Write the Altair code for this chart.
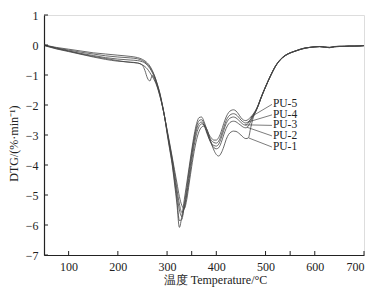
import altair as alt
import pandas as pd

temps = [50, 75, 100, 125, 150, 175, 200, 225, 240, 250, 255, 260, 265, 270, 275, 280, 285, 290, 295, 300,
         305, 310, 315, 320, 325, 330, 335, 340, 345, 350, 355, 360, 365, 370, 375, 380, 385, 390, 395, 400,
         405, 410, 415, 420, 425, 430, 435, 440, 445, 450, 455, 460, 465, 470, 475, 480, 485, 490,
         500, 510, 520, 530, 540, 550, 560, 570, 580, 590, 600, 610, 620, 630, 640, 650, 660, 670, 680, 690, 700]

pu5 = [0.00, -0.08, -0.14, -0.20, -0.26, -0.30, -0.34, -0.38, -0.42, -0.48, -0.53, -0.60, -0.70, -0.85, -1.05, -1.30, -1.60, -1.98, -2.40, -2.95,
       -3.45, -3.95, -4.60, -5.30, -6.08, -5.70, -5.15, -4.60, -4.05, -3.50, -3.00, -2.62, -2.42, -2.40, -2.55, -2.78, -2.98, -3.10, -3.17, -3.17,
       -3.08, -2.88, -2.62, -2.40, -2.25, -2.18, -2.16, -2.20, -2.30, -2.42, -2.50, -2.52, -2.48, -2.40, -2.30, -2.17, -2.00, -1.78,
       -1.38, -1.02, -0.70, -0.48, -0.34, -0.26, -0.20, -0.14, -0.10, -0.08, -0.06, -0.05, -0.07, -0.09, -0.05, -0.04, -0.05, -0.03, -0.04, -0.03, -0.02]

pu4 = [-0.01, -0.10, -0.17, -0.24, -0.30, -0.36, -0.40, -0.43, -0.46, -0.52, -0.57, -0.64, -0.74, -0.88, -1.06, -1.30, -1.58, -1.95, -2.38, -2.90,
       -3.40, -3.90, -4.50, -5.15, -5.85, -5.82, -5.30, -4.75, -4.15, -3.60, -3.10, -2.72, -2.52, -2.49, -2.62, -2.85, -3.05, -3.18, -3.25, -3.27,
       -3.20, -3.00, -2.75, -2.52, -2.38, -2.31, -2.29, -2.32, -2.40, -2.50, -2.57, -2.60, -2.56, -2.46, -2.34, -2.20, -2.02, -1.80,
       -1.40, -1.04, -0.72, -0.49, -0.35, -0.27, -0.20, -0.15, -0.11, -0.08, -0.06, -0.06, -0.08, -0.08, -0.06, -0.05, -0.04, -0.04, -0.03, -0.04, -0.02]

pu3 = [0.00, -0.12, -0.20, -0.28, -0.35, -0.42, -0.47, -0.50, -0.52, -0.56, -0.60, -0.68, -0.78, -0.92, -1.10, -1.34, -1.62, -1.98, -2.40, -2.88,
       -3.35, -3.82, -4.38, -4.98, -5.50, -5.72, -5.40, -4.90, -4.30, -3.72, -3.20, -2.82, -2.62, -2.57, -2.68, -2.90, -3.12, -3.27, -3.35, -3.37,
       -3.30, -3.10, -2.85, -2.62, -2.48, -2.42, -2.40, -2.43, -2.50, -2.58, -2.65, -2.67, -2.60, -2.48, -2.35, -2.20, -2.02, -1.80,
       -1.40, -1.03, -0.71, -0.49, -0.35, -0.26, -0.21, -0.15, -0.10, -0.08, -0.07, -0.05, -0.07, -0.09, -0.06, -0.04, -0.05, -0.04, -0.03, -0.03, -0.02]

pu2 = [-0.02, -0.13, -0.22, -0.31, -0.40, -0.48, -0.54, -0.57, -0.60, -0.68, -0.85, -1.10, -1.20, -1.02, -1.15, -1.38, -1.66, -2.00, -2.40, -2.85,
       -3.30, -3.75, -4.25, -4.80, -5.30, -5.58, -5.45, -5.00, -4.45, -3.88, -3.35, -2.95, -2.72, -2.63, -2.66, -2.85, -3.10, -3.30, -3.42, -3.46,
       -3.42, -3.25, -3.00, -2.78, -2.63, -2.56, -2.54, -2.56, -2.62, -2.68, -2.74, -2.76, -2.70, -2.55, -2.38, -2.22, -2.03, -1.80,
       -1.40, -1.04, -0.72, -0.50, -0.36, -0.27, -0.21, -0.15, -0.11, -0.08, -0.06, -0.05, -0.06, -0.08, -0.06, -0.05, -0.04, -0.04, -0.04, -0.03, -0.02]

pu1 = [0.00, -0.10, -0.20, -0.30, -0.38, -0.45, -0.52, -0.58, -0.60, -0.66, -0.72, -0.80, -0.92, -1.05, -1.20, -1.40, -1.68, -2.00, -2.40, -2.82,
       -3.25, -3.70, -4.15, -4.60, -5.05, -5.35, -5.45, -5.15, -4.60, -4.05, -3.55, -3.15, -2.88, -2.74, -2.70, -2.78, -3.00, -3.28, -3.50, -3.65,
       -3.70, -3.60, -3.40, -3.15, -2.98, -2.90, -2.87, -2.88, -2.93, -3.00, -3.08, -3.12, -3.10, -2.75, -2.42, -2.22, -2.03, -1.80,
       -1.40, -1.03, -0.71, -0.49, -0.35, -0.26, -0.20, -0.15, -0.10, -0.08, -0.06, -0.05, -0.07, -0.08, -0.05, -0.05, -0.04, -0.03, -0.04, -0.03, -0.02]

series_names = ["PU-1", "PU-2", "PU-3", "PU-4", "PU-5"]
series_values = [pu1, pu2, pu3, pu4, pu5]

label_names = ["PU-5", "PU-4", "PU-3", "PU-2", "PU-1"]
label_y = [-1.98, -2.33, -2.68, -3.03, -3.40]
label_x = [515, 515, 515, 515, 515]
leader_start_x = [513, 513, 513, 513, 513]
leader_end_x = [470, 464, 458, 462, 466]
leader_end_y = [-2.40, -2.57, -2.66, -2.74, -3.10]

x_ticks = [100, 200, 300, 350, 400, 500, 550, 600, 700]
x_labels = [100, 200, 300, 400, 500, 600, 700]
y_ticks = [1, 0, -1, -2, -3, -4, -5, -6, -7]

W, H = 320, 240
FONT = "Liberation Serif"
INK = "#222222"

rows = []
for name, vals in zip(series_names, series_values):
    for t, v in zip(temps, vals):
        rows.append({"T": t, "DTG": v, "series": name})
df = pd.DataFrame(rows)

xscale = alt.Scale(domain=[50, 700], nice=False, zero=False)
yscale = alt.Scale(domain=[-7, 1], nice=False, zero=False)

xaxis = alt.Axis(values=x_labels, title="温度 Temperature/°C", grid=False, ticks=False,
                 domainColor=INK, domainWidth=1.2, labelFont=FONT, labelFontSize=12,
                 labelColor=INK, labelPadding=6, labelOverlap=False, titleFont=FONT, titleFontSize=12,
                 titleFontWeight="normal", titleColor=INK, titlePadding=2, titleX=171)
yaxis = alt.Axis(values=y_ticks, title="DTG/(%·min⁻¹)", grid=False, ticks=False,
                 domainColor=INK, domainWidth=1.2, labelFont=FONT, labelFontSize=12,
                 labelColor=INK, labelPadding=6, labelOverlap=False, titleFont=FONT, titleFontSize=12,
                 titleFontWeight="normal", titleColor=INK, titlePadding=5, titleY=128)

lines = alt.Chart(df).mark_line(strokeWidth=0.8, color="#444444", interpolate="monotone", clip=True).encode(
    x=alt.X("T:Q", scale=xscale, axis=xaxis),
    y=alt.Y("DTG:Q", scale=yscale, axis=yaxis),
    detail="series:N",
)

xt = alt.Chart(pd.DataFrame({"t": x_ticks})).mark_rule(color=INK, strokeWidth=1).encode(
    x=alt.X("t:Q", scale=xscale, axis=xaxis), y=alt.value(H), y2=alt.value(H - 4))
yt = alt.Chart(pd.DataFrame({"t": y_ticks})).mark_rule(color=INK, strokeWidth=1).encode(
    y=alt.Y("t:Q", scale=yscale, axis=yaxis), x=alt.value(0), x2=alt.value(4))

lab_df = pd.DataFrame({"name": label_names, "x": label_x, "y": label_y,
                       "x0": leader_start_x, "x1": leader_end_x, "y1": leader_end_y})
leaders = alt.Chart(lab_df).mark_rule(color="#444444", strokeWidth=0.7).encode(
    x=alt.X("x0:Q", scale=xscale, axis=xaxis), y=alt.Y("y:Q", scale=yscale, axis=yaxis),
    x2="x1:Q", y2="y1:Q")
texts = alt.Chart(lab_df).mark_text(align="left", baseline="middle", font=FONT, fontSize=11.5, color=INK).encode(
    x=alt.X("x:Q", scale=xscale, axis=xaxis), y=alt.Y("y:Q", scale=yscale, axis=yaxis), text="name:N")

chart = alt.layer(lines, xt, yt, leaders, texts).properties(
    width=W, height=H,
    autosize=alt.AutoSizeParams(type="none"),
    padding={"left": 36, "top": 7, "right": 7, "bottom": 35},
).configure_view(stroke=None).configure(background="white")

chart.save("out.html", embed_options={"renderer": "svg", "actions": False})
